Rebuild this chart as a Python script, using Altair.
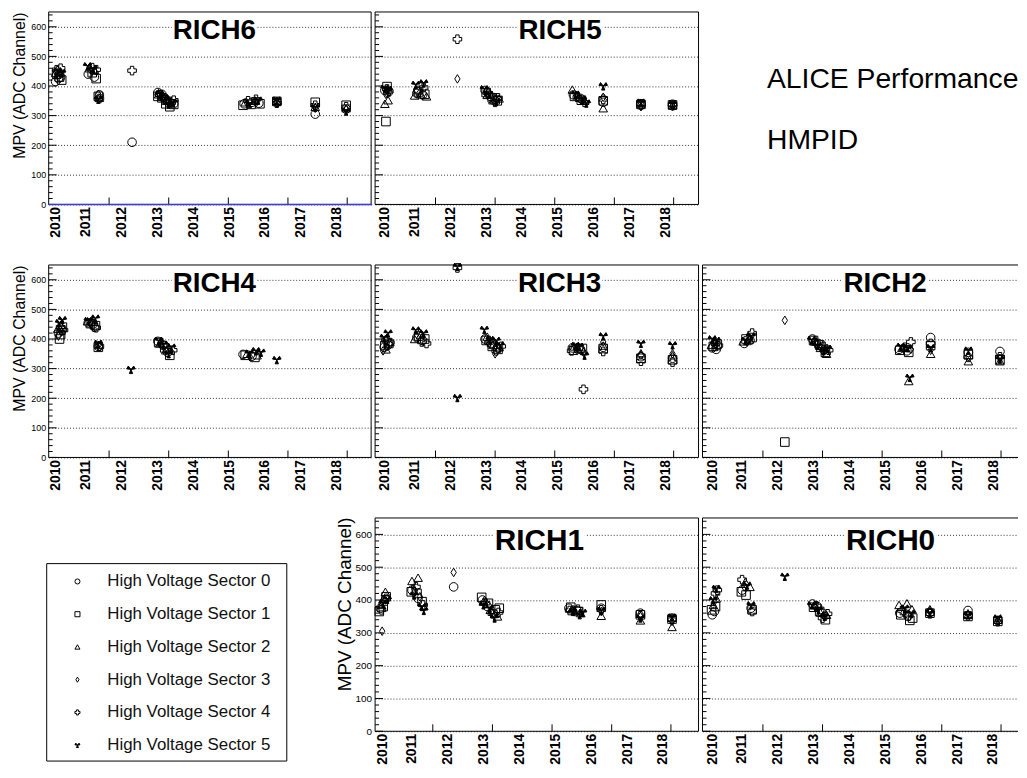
import altair as alt
import pandas as pd

FONT = "Liberation Sans"

SECTORS = ["High Voltage Sector 0", "High Voltage Sector 1", "High Voltage Sector 2",
           "High Voltage Sector 3", "High Voltage Sector 4", "High Voltage Sector 5"]
DIAMOND = "M0,-1L0.62,0L0,1L-0.62,0Z"
THREE_TRIANGLES = "M0,0L-0.38,0.95L0.38,0.95Z M0,0L-0.63,-0.80L-1,-0.15Z M0,0L1,-0.15L0.63,-0.80Z"
SHAPES = ["circle", "square", "triangle-up", DIAMOND, "cross", THREE_TRIANGLES]
FILLS = ["rgba(0,0,0,0)"] * 5 + ["#000000"]

Y_MAJOR = [0, 100, 200, 300, 400, 500, 600]
Y_MINOR = [20, 40, 60, 80, 120, 140, 160, 180, 220, 240, 260, 280, 320, 340, 360, 380,
           420, 440, 460, 480, 520, 540, 560, 580, 620, 640]
X_LABELS_AT = [2010.18, 2011, 2012, 2013, 2014, 2015, 2016, 2017, 2018]
X_TICKS = [2011.66, 2013.32, 2014.98, 2016.64, 2018.29]
X0 = 2009.978
PX_PER_YEAR = 36.2

# (time, MPV) per high-voltage sector 0..5
RICH6 = [
    [(2010.17, 415), (2010.25, 425), (2010.31, 430), (2011.08, 440), (2011.25, 430), (2011.39, 370), (2012.30, 210),
     (2013.02, 378), (2013.13, 372), (2013.24, 355), (2013.35, 345), (2013.46, 340), (2015.42, 340), (2015.64, 345),
     (2015.83, 342), (2016.33, 345), (2017.40, 305), (2018.26, 322)],
    [(2010.20, 440), (2010.28, 430), (2010.34, 420), (2011.19, 445), (2011.30, 425), (2011.36, 365), (2013.02, 365),
     (2013.13, 360), (2013.24, 340), (2013.35, 330), (2013.46, 338), (2015.39, 335), (2015.61, 338), (2015.86, 340),
     (2016.33, 348), (2017.40, 345), (2018.26, 335)],
    [(2010.17, 445), (2010.25, 450), (2011.11, 460), (2011.25, 455), (2011.39, 360), (2013.04, 372), (2013.15, 365),
     (2013.26, 350), (2013.38, 342), (2015.45, 345), (2015.72, 350), (2016.33, 350), (2017.40, 330), (2018.26, 325)],
    [(2010.23, 435), (2010.31, 440), (2011.17, 450), (2011.36, 372), (2013.04, 375), (2013.18, 362), (2013.32, 345),
     (2015.50, 342), (2015.78, 348), (2016.33, 343), (2017.40, 325), (2018.26, 320)],
    [(2010.20, 455), (2010.31, 460), (2011.19, 462), (2011.30, 455), (2011.39, 358), (2012.30, 452), (2013.07, 370),
     (2013.21, 355), (2013.35, 348), (2013.46, 352), (2015.53, 350), (2015.75, 355), (2016.33, 342), (2017.40, 335),
     (2018.26, 330)],
    [(2010.23, 450), (2010.34, 445), (2011.06, 468), (2011.22, 458), (2011.36, 355), (2013.07, 374), (2013.21, 360),
     (2013.32, 338), (2013.43, 345), (2015.58, 340), (2015.81, 352), (2016.33, 352), (2017.40, 328), (2018.26, 315)],
]

RICH5 = [
    [(2010.25, 385), (2010.34, 378), (2011.14, 375), (2011.30, 370), (2013.04, 385), (2013.18, 365), (2013.32, 355),
     (2015.50, 370), (2015.70, 358), (2016.33, 345), (2017.38, 335), (2018.26, 333)],
    [(2010.31, 398), (2010.28, 280), (2011.19, 380), (2011.36, 372), (2013.07, 378), (2013.24, 360), (2013.38, 350),
     (2015.53, 365), (2015.72, 352), (2016.33, 350), (2017.38, 338), (2018.26, 336)],
    [(2010.25, 340), (2010.34, 352), (2011.08, 368), (2011.25, 372), (2011.41, 365), (2013.10, 370), (2013.26, 352),
     (2013.43, 358), (2015.47, 388), (2015.67, 362), (2015.81, 350), (2016.33, 325), (2017.38, 342), (2018.26, 335)],
    [(2010.28, 372), (2010.36, 380), (2011.22, 378), (2012.27, 424), (2013.07, 380), (2013.29, 362), (2015.58, 368),
     (2015.78, 352), (2016.33, 362), (2017.38, 330), (2018.26, 332)],
    [(2010.31, 390), (2010.36, 382), (2011.17, 385), (2011.33, 395), (2012.27, 558), (2013.13, 375), (2013.32, 345),
     (2013.40, 360), (2015.61, 362), (2015.81, 345), (2016.33, 355), (2017.38, 340), (2018.26, 338)],
    [(2010.25, 392), (2010.34, 388), (2011.11, 405), (2011.33, 410), (2013.02, 390), (2013.15, 372), (2013.35, 348),
     (2015.56, 372), (2015.75, 355), (2015.86, 342), (2016.33, 400), (2017.38, 345), (2018.26, 340)],
]

RICH4 = [
    [(2010.25, 420), (2010.34, 430), (2011.08, 455), (2011.22, 450), (2011.36, 375), (2013.02, 392), (2013.15, 380),
     (2013.29, 355), (2015.39, 348), (2015.64, 342)],
    [(2010.28, 400), (2010.36, 440), (2010.31, 415), (2011.14, 452), (2011.28, 445), (2011.36, 372), (2013.04, 388),
     (2013.21, 370), (2013.35, 345), (2015.45, 345), (2015.72, 338)],
    [(2010.23, 435), (2010.31, 448), (2011.06, 460), (2011.19, 458), (2011.39, 380), (2013.07, 385), (2013.24, 362),
     (2015.50, 350), (2015.78, 345)],
    [(2010.25, 410), (2010.34, 425), (2011.17, 450), (2011.36, 378), (2013.10, 390), (2013.26, 360), (2015.58, 340)],
    [(2010.31, 440), (2010.39, 430), (2011.25, 440), (2011.30, 438), (2011.39, 376), (2013.18, 378), (2013.43, 362)],
    [(2010.28, 455), (2010.36, 465), (2011.08, 462), (2011.28, 470), (2011.36, 385), (2012.27, 297), (2013.04, 395),
     (2013.18, 382), (2013.32, 350), (2013.40, 372), (2015.56, 352), (2015.75, 360), (2015.89, 355), (2016.33, 330)],
]

RICH3 = [
    [(2010.23, 372), (2010.34, 380), (2011.14, 405), (2011.30, 395), (2013.04, 400), (2013.21, 385), (2013.38, 370),
     (2015.47, 370), (2015.70, 365), (2016.33, 372), (2017.38, 340), (2018.26, 335)],
    [(2010.25, 378), (2010.36, 385), (2011.19, 410), (2011.36, 400), (2013.07, 395), (2013.24, 375),
     (2013.40, 365), (2015.50, 362), (2015.75, 368), (2016.33, 368), (2017.38, 335), (2018.26, 330)],
    [(2010.28, 365), (2010.39, 390), (2011.08, 400), (2011.25, 415), (2013.10, 408), (2013.26, 380), (2013.43, 372),
     (2015.53, 375), (2015.72, 372), (2016.33, 378), (2017.38, 352), (2018.26, 345)],
    [(2010.20, 360), (2010.31, 375), (2011.22, 420), (2013.13, 390), (2013.32, 350), (2015.58, 365), (2015.78, 355),
     (2016.33, 390), (2017.38, 345), (2018.26, 350)],
    [(2010.28, 395), (2010.39, 388), (2011.28, 390), (2011.41, 385), (2012.27, 640), (2013.15, 388), (2013.35, 360),
     (2013.49, 375), (2015.45, 360), (2015.64, 368), (2015.78, 230), (2016.33, 358), (2017.38, 325), (2018.26, 322)],
    [(2010.23, 405), (2010.34, 420), (2011.11, 430), (2011.33, 420), (2012.27, 645), (2012.27, 202), (2013.02, 432),
     (2013.18, 398), (2013.35, 395), (2013.46, 380), (2015.56, 378), (2015.67, 375), (2015.81, 345), (2016.33, 410),
     (2017.38, 385), (2018.26, 380)],
]

RICH2 = [
    [(2010.25, 370), (2010.36, 365), (2011.14, 385), (2011.30, 395), (2013.04, 400), (2013.21, 385), (2013.38, 365),
     (2015.45, 365), (2015.67, 360), (2016.33, 405), (2017.38, 355), (2018.26, 358)],
    [(2010.28, 375), (2010.39, 382), (2011.19, 400), (2011.36, 405), (2012.27, 52), (2013.07, 395), (2013.24, 380),
     (2013.40, 355), (2015.47, 362), (2015.72, 355), (2016.33, 378), (2017.38, 348), (2018.26, 330)],
    [(2010.23, 380), (2010.34, 390), (2011.11, 392), (2011.28, 398), (2013.10, 392), (2013.26, 370), (2013.43, 350),
     (2015.53, 370), (2015.72, 258), (2016.33, 350), (2017.38, 325), (2018.26, 325)],
    [(2010.31, 372), (2011.22, 390), (2012.27, 463), (2013.13, 388), (2013.32, 360), (2015.58, 368), (2015.78, 365),
     (2016.33, 362), (2017.38, 340), (2018.26, 335)],
    [(2010.34, 385), (2010.42, 378), (2011.36, 420), (2011.25, 402), (2013.15, 385), (2013.35, 375), (2013.49, 362),
     (2015.61, 372), (2015.78, 390), (2016.33, 385), (2017.38, 338), (2018.26, 340)],
    [(2010.25, 400), (2010.36, 395), (2011.17, 395), (2011.33, 410), (2013.02, 398), (2013.18, 378), (2013.35, 360),
     (2013.46, 368), (2015.50, 375), (2015.70, 370), (2015.75, 270), (2016.33, 370), (2017.38, 362), (2018.26, 332)],
]

RICH1 = [
    [(2010.20, 375), (2010.31, 395), (2011.08, 430), (2011.25, 405), (2012.24, 440), (2013.04, 400), (2013.18, 380),
     (2013.35, 360), (2015.45, 375), (2015.67, 368), (2016.35, 375), (2017.44, 360), (2018.32, 345)],
    [(2010.17, 365), (2010.28, 380), (2010.36, 410), (2011.06, 425), (2011.22, 420), (2011.36, 395), (2013.02, 408),
     (2013.21, 390), (2013.40, 370), (2013.51, 375), (2015.50, 378), (2015.72, 365), (2016.35, 385), (2017.44, 355),
     (2018.32, 342)],
    [(2010.23, 385), (2010.34, 425), (2011.08, 458), (2011.25, 468), (2013.07, 395), (2013.26, 370), (2013.46, 350),
     (2015.53, 372), (2015.78, 360), (2016.35, 352), (2017.44, 338), (2018.32, 318)],
    [(2010.25, 305), (2010.34, 400), (2011.14, 432), (2011.30, 410), (2012.24, 484), (2013.10, 398), (2013.29, 365),
     (2015.58, 370), (2016.35, 365), (2017.44, 350), (2018.32, 335)],
    [(2010.23, 370), (2010.36, 405), (2011.19, 440), (2011.39, 385), (2013.13, 390), (2013.32, 358), (2013.49, 362),
     (2015.47, 368), (2015.70, 372), (2016.35, 370), (2017.44, 352), (2018.32, 340)],
    [(2010.28, 390), (2010.39, 402), (2011.14, 415), (2011.36, 380), (2011.41, 368), (2013.07, 385), (2013.24, 375),
     (2013.38, 345), (2015.56, 365), (2015.75, 355), (2015.83, 362), (2016.35, 368), (2017.44, 345), (2018.32, 348)],
]

RICH0 = [
    [(2010.25, 355), (2010.31, 365), (2011.08, 430), (2011.33, 375), (2013.04, 388), (2013.18, 380), (2013.32, 360),
     (2015.47, 360), (2015.70, 350), (2016.31, 362), (2017.37, 368), (2018.20, 338)],
    [(2010.23, 370), (2010.34, 380), (2011.06, 425), (2011.19, 415), (2011.36, 370), (2013.07, 378), (2013.24, 365),
     (2013.40, 340), (2015.50, 355), (2015.75, 338), (2015.83, 345), (2016.31, 360), (2017.37, 350), (2018.20, 335)],
    [(2010.28, 385), (2010.36, 405), (2011.17, 455), (2011.30, 440), (2013.10, 385), (2013.26, 362), (2013.43, 355),
     (2015.45, 385), (2015.67, 390), (2015.81, 372), (2016.31, 372), (2017.37, 355), (2018.20, 340)],
    [(2010.31, 395), (2011.14, 440), (2013.13, 375), (2013.35, 352), (2015.58, 362), (2016.31, 365), (2017.37, 358),
     (2018.20, 336)],
    [(2010.34, 420), (2010.39, 430), (2011.08, 462), (2011.36, 365), (2013.15, 382), (2013.32, 345), (2013.46, 358),
     (2015.53, 368), (2015.72, 352), (2016.31, 358), (2017.37, 352), (2018.20, 334)],
    [(2010.28, 400), (2010.36, 435), (2011.22, 445), (2011.33, 385), (2012.27, 472), (2013.02, 385), (2013.21, 370),
     (2013.38, 350), (2015.61, 375), (2015.78, 360), (2016.31, 362), (2017.37, 355), (2018.20, 345)],
]

SHAPE_SCALE = alt.Scale(domain=SECTORS, range=SHAPES)
FILL_SCALE = alt.Scale(domain=SECTORS, range=FILLS)
ONE = pd.DataFrame({"k": [0]})


def to_frame(series):
    rows = []
    for i, pts in enumerate(series):
        for t, v in pts:
            rows.append({"sector": SECTORS[i], "t": t, "mpv": v})
    return pd.DataFrame(rows)


def rule(x, x2, y, y2, color="black", width=1.0):
    enc = {"x": alt.value(x), "y": alt.value(y)}
    if x2 is not None:
        enc["x2"] = alt.value(x2)
    if y2 is not None:
        enc["y2"] = alt.value(y2)
    return alt.Chart(ONE).mark_rule(color=color, strokeWidth=width).encode(**enc)


def panel(name, series, width, height, title_x, title_size, title_base, left=False,
          label_size=9, ytitle_size=16, ytitle_x=-24.5, ytitle_y=0, ylabel_pad=3,
          label_offset=0.0, shift=0.0, blue=False, open_right=False):
    df = to_frame(series)
    x_lo = X0 + shift
    xs = alt.Scale(domain=[x_lo, x_lo + width / PX_PER_YEAR], nice=False, zero=False)
    ys = alt.Scale(domain=[0, 650], nice=False, zero=False)
    xaxis = alt.Axis(values=X_LABELS_AT, labelExpr="'' + floor(datum.value)", labelAngle=270,
                     labelFontSize=14, labelFontWeight="bold", labelFont=FONT, labelColor="black",
                     labelPadding=2, labelOffset=label_offset, labelFlush=False, labelOverlap=False,
                     labelLimit=200, grid=False, ticks=False, tickSize=0, domain=False, title="")
    grid_kw = dict(values=Y_MAJOR, grid=True, gridDash=[1, 2], gridColor="#111111", gridOpacity=0.85,
                   gridWidth=1, ticks=False, tickSize=0, domain=False)
    if left:
        yaxis = alt.Axis(labelFontSize=label_size, labelFont=FONT, labelColor="black",
                         labelPadding=ylabel_pad, labelFlush=False,
                         title="MPV (ADC Channel)", titleFont=FONT, titleFontSize=ytitle_size,
                         titleFontWeight="normal", titleColor="black", titleAngle=270,
                         titleAlign="right", titleBaseline="alphabetic",
                         titleX=ytitle_x, titleY=ytitle_y, **grid_kw)
    else:
        yaxis = alt.Axis(labels=False, title="", **grid_kw)

    names = pd.DataFrame({"name": [name]})
    tw = title_size * 3.0
    cap = title_size * 0.72
    box = alt.Chart(names).mark_rect(color="white").encode(
        x=alt.value(title_x - tw / 2 - 1), x2=alt.value(title_x + tw / 2 + 1),
        y=alt.value(title_base - cap - 2), y2=alt.value(title_base + 3))
    txt = alt.Chart(names).mark_text(font=FONT, fontSize=title_size, fontWeight="bold",
                                     align="center", baseline="alphabetic", color="black").encode(
        text="name:N", x=alt.value(title_x), y=alt.value(title_base))

    ymaj = alt.Chart(pd.DataFrame({"mpv": Y_MAJOR})).mark_rule(color="black", strokeWidth=1).encode(
        y=alt.Y("mpv:Q", scale=ys, axis=yaxis), x=alt.value(0), x2=alt.value(8))
    ymin = alt.Chart(pd.DataFrame({"mpv": Y_MINOR})).mark_rule(color="black", strokeWidth=1).encode(
        y=alt.Y("mpv:Q", scale=ys, axis=yaxis), x=alt.value(0), x2=alt.value(4))
    xt = alt.Chart(pd.DataFrame({"t": X_TICKS})).mark_rule(color="black", strokeWidth=1).encode(
        x=alt.X("t:Q", scale=xs, axis=xaxis), y=alt.value(height), y2=alt.value(height - 7))

    frame = [rule(0, width, 0, None), rule(0, width, height, None), rule(0, None, 0, height)]
    if not open_right:
        frame.append(rule(width, None, 0, height))

    layers = [box, txt, ymaj, ymin, xt] + frame
    if blue:
        layers.append(alt.Chart(pd.DataFrame({"mpv": [0]})).mark_rule(color="#3c3cdc", strokeWidth=1.5).encode(
            y=alt.Y("mpv:Q", scale=ys, axis=yaxis), x=alt.value(0), x2=alt.value(width + 1)))

    points = alt.Chart(df).mark_point(filled=True, stroke="black", strokeWidth=1, size=75, opacity=1).encode(
        x=alt.X("t:Q", scale=xs, axis=xaxis),
        y=alt.Y("mpv:Q", scale=ys, axis=yaxis),
        shape=alt.Shape("sector:N", scale=SHAPE_SCALE, legend=None),
        fill=alt.Fill("sector:N", scale=FILL_SCALE, legend=None),
    )
    layers.append(points)
    return alt.layer(*layers).properties(width=width, height=height)


r6 = panel("RICH6", RICH6, 325, 194, 167, 28, 27, left=True, blue=True)
r5 = panel("RICH5", RICH5, 326, 194, 186.5, 28, 27, label_offset=2.5)
r4 = panel("RICH4", RICH4, 325, 194, 167, 28, 27, left=True)
r3 = panel("RICH3", RICH3, 326, 194, 186, 28, 27, label_offset=2.5)
r2 = panel("RICH2", RICH2, 318, 194, 184, 28, 27, label_offset=2.5, open_right=True)
r1 = panel("RICH1", RICH1, 326, 215, 165.5, 30, 32, left=True, label_size=10, ytitle_size=19,
           ytitle_x=-24.3, ytitle_y=-1, ylabel_pad=3.5, label_offset=2.5, shift=0.075)
r0 = panel("RICH0", RICH0, 318, 215, 189.5, 30, 32, label_offset=2.4, open_right=True)

# annotation panel
alice = alt.Chart(pd.DataFrame({"label": ["ALICE Performance"]})).mark_text(
    font=FONT, fontSize=28.5, align="left", baseline="alphabetic", color="black").encode(
    text="label:N", x=alt.value(65), y=alt.value(77))
hmpid = alt.Chart(pd.DataFrame({"label": ["HMPID"]})).mark_text(
    font=FONT, fontSize=28.5, align="left", baseline="alphabetic", color="black").encode(
    text="label:N", x=alt.value(65), y=alt.value(138))
text_panel = alt.layer(alice, hmpid).properties(width=318, height=194)

# legend panel
lg = pd.DataFrame({"sector": SECTORS})
ly = alt.Scale(type="point", domain=SECTORS, range=[64, 229], padding=0)
anchor = alt.Chart(ONE).mark_rule(color="white", strokeWidth=1).encode(
    x=alt.value(-40), y=alt.value(0), y2=alt.value(1))
lframe = alt.Chart(ONE).mark_rect(fill="white", stroke="black", strokeWidth=1).encode(
    x=alt.value(-2), x2=alt.value(240), y=alt.value(46), y2=alt.value(245))
lsym = alt.Chart(lg).mark_point(filled=True, stroke="black", strokeWidth=1, size=26, opacity=1).encode(
    x=alt.value(29), y=alt.Y("sector:N", scale=ly, axis=None),
    shape=alt.Shape("sector:N", scale=SHAPE_SCALE, legend=None),
    fill=alt.Fill("sector:N", scale=FILL_SCALE, legend=None))
llab = alt.Chart(lg).mark_text(font=FONT, fontSize=17, align="left", baseline="middle", color="#111111").encode(
    x=alt.value(59), y=alt.Y("sector:N", scale=ly, axis=None), text="sector:N")
legend_panel = alt.layer(anchor, lframe, lsym, llab).properties(width=322, height=215)

chart = (
    alt.concat(r6, r5, text_panel, r4, r3, r2, legend_panel, r1, r0,
               columns=3, spacing={"row": 61, "column": 4}, bounds="flush", align="each")
    .properties(padding=0, background="white")
    .configure_view(stroke="transparent")
    .configure_axisX(labelFontSize=14, labelFontWeight="bold", labelFont=FONT)
    .configure_axisY(labelFontSize=9, labelFont=FONT)
)

chart.save("out.html", embed_options={"renderer": "svg", "actions": False})
